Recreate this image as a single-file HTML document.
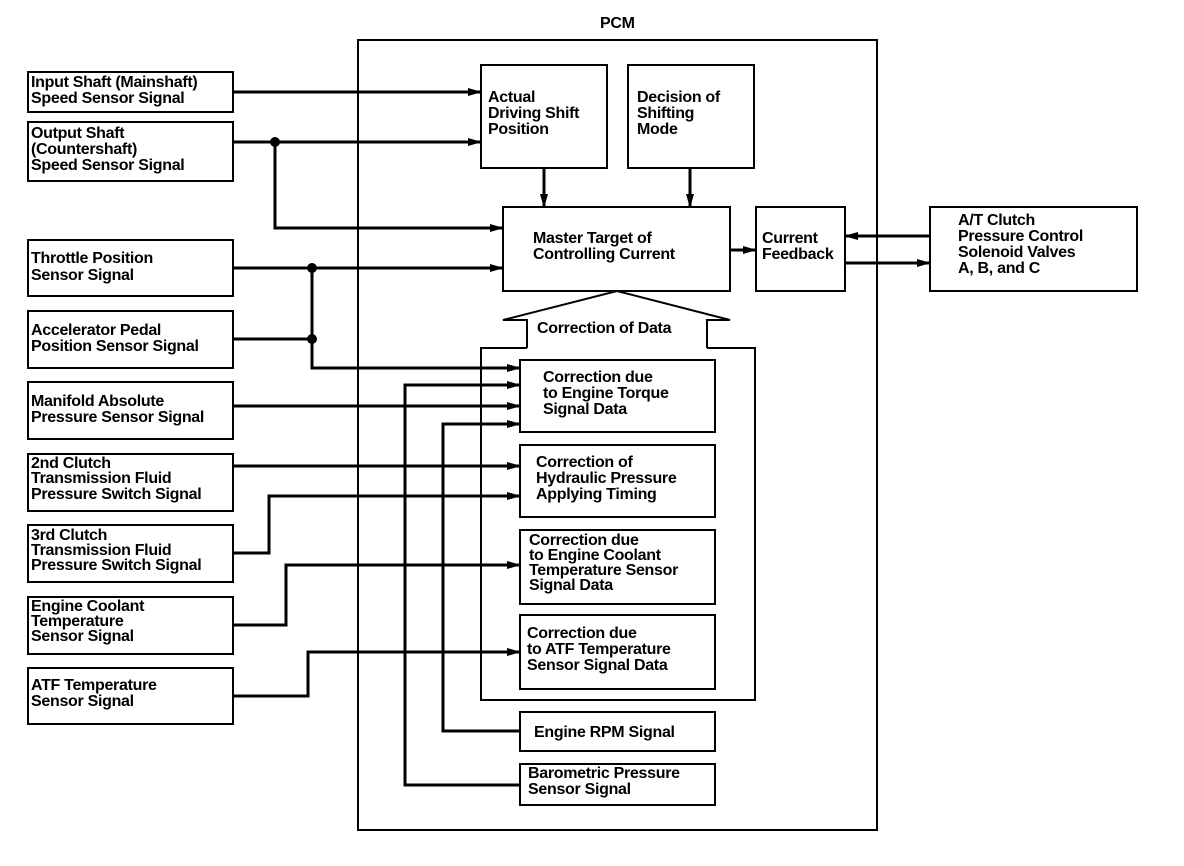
<!DOCTYPE html>
<html><head><meta charset="utf-8"><style>
html,body{margin:0;padding:0;background:#fff}
svg{display:block}
text{font-family:"Liberation Sans",Arial,sans-serif;font-weight:bold;font-size:16px;fill:#000;letter-spacing:-0.3px}
</style></head><body>
<svg width="1184" height="866" viewBox="0 0 1184 866" xmlns="http://www.w3.org/2000/svg">
<defs>
<marker id="a" markerWidth="14" markerHeight="10" refX="13" refY="5" orient="auto" markerUnits="userSpaceOnUse">
<path d="M0,1 L14,5 L0,9 Z" fill="#000"/>
</marker>
</defs>
<g fill="none" stroke="#000" stroke-width="2">
<!-- PCM -->
<rect x="358" y="40" width="519" height="790"/>
<!-- left boxes -->
<rect x="28" y="72" width="205" height="40"/>
<rect x="28" y="122" width="205" height="59"/>
<rect x="28" y="240" width="205" height="56"/>
<rect x="28" y="311" width="205" height="57"/>
<rect x="28" y="382" width="205" height="57"/>
<rect x="28" y="454" width="205" height="57"/>
<rect x="28" y="525" width="205" height="57"/>
<rect x="28" y="597" width="205" height="57"/>
<rect x="28" y="668" width="205" height="56"/>
<!-- PCM internals -->
<rect x="481" y="65" width="126" height="103"/>
<rect x="628" y="65" width="126" height="103"/>
<rect x="503" y="207" width="227" height="84"/>
<rect x="756" y="207" width="89" height="84"/>
<rect x="930" y="207" width="207" height="84"/>
<path d="M527,348 L527,320 L503,320 L617,291 L730,320 L707,320 L707,348"/>
<path d="M527,348 L481,348 L481,700 L755,700 L755,348 L707,348"/>
<rect x="520" y="360" width="195" height="72"/>
<rect x="520" y="445" width="195" height="72"/>
<rect x="520" y="530" width="195" height="74"/>
<rect x="520" y="615" width="195" height="74"/>
<rect x="520" y="712" width="195" height="39"/>
<rect x="520" y="764" width="195" height="41"/>
</g>
<g fill="none" stroke="#000" stroke-width="3" marker-end="url(#a)">
<path d="M233,92 L481,92"/>
<path d="M233,142 L481,142"/>
<path d="M275,142 L275,228 L503,228"/>
<path d="M233,268 L503,268"/>
<path d="M233,339 L312,339"  marker-end="none"/>
<path d="M312,268 L312,368 L520,368"/>
<path d="M520,785 L405,785 L405,385 L520,385"/>
<path d="M233,406 L520,406"/>
<path d="M520,731 L443,731 L443,424 L520,424"/>
<path d="M233,466 L520,466"/>
<path d="M233,553 L269,553 L269,496 L520,496"/>
<path d="M233,625 L286,625 L286,565 L520,565"/>
<path d="M233,696 L308,696 L308,652 L520,652"/>
<path d="M544,168 L544,207"/>
<path d="M690,168 L690,207"/>
<path d="M730,250 L756,250"/>
<path d="M930,236 L845,236"/>
<path d="M845,263 L930,263"/>
</g>
<g fill="#000">
<circle cx="275" cy="142" r="5"/>
<circle cx="312" cy="268" r="5"/>
<circle cx="312" cy="339" r="5"/>
</g>
<text x="600" y="28">PCM</text>
<text><tspan x="31" y="87">Input Shaft (Mainshaft)</tspan><tspan x="31" y="103">Speed Sensor Signal</tspan></text>
<text><tspan x="31" y="138">Output Shaft</tspan><tspan x="31" y="154">(Countershaft)</tspan><tspan x="31" y="170">Speed Sensor Signal</tspan></text>
<text><tspan x="31" y="263">Throttle Position</tspan><tspan x="31" y="280">Sensor Signal</tspan></text>
<text><tspan x="31" y="335">Accelerator Pedal</tspan><tspan x="31" y="351">Position Sensor Signal</tspan></text>
<text><tspan x="31" y="406">Manifold Absolute</tspan><tspan x="31" y="422">Pressure Sensor Signal</tspan></text>
<text><tspan x="31" y="468">2nd Clutch</tspan><tspan x="31" y="483">Transmission Fluid</tspan><tspan x="31" y="499">Pressure Switch Signal</tspan></text>
<text><tspan x="31" y="540">3rd Clutch</tspan><tspan x="31" y="555">Transmission Fluid</tspan><tspan x="31" y="570">Pressure Switch Signal</tspan></text>
<text><tspan x="31" y="611">Engine Coolant</tspan><tspan x="31" y="626">Temperature</tspan><tspan x="31" y="641">Sensor Signal</tspan></text>
<text><tspan x="31" y="690">ATF Temperature</tspan><tspan x="31" y="706">Sensor Signal</tspan></text>
<text><tspan x="488" y="102">Actual</tspan><tspan x="488" y="118">Driving Shift</tspan><tspan x="488" y="134">Position</tspan></text>
<text><tspan x="637" y="102">Decision of</tspan><tspan x="637" y="118">Shifting</tspan><tspan x="637" y="134">Mode</tspan></text>
<text><tspan x="533" y="243">Master Target of</tspan><tspan x="533" y="259">Controlling Current</tspan></text>
<text><tspan x="762" y="243">Current</tspan><tspan x="762" y="259">Feedback</tspan></text>
<text><tspan x="958" y="225">A/T Clutch</tspan><tspan x="958" y="241">Pressure Control</tspan><tspan x="958" y="257">Solenoid Valves</tspan><tspan x="958" y="273">A, B, and C</tspan></text>
<text x="537" y="333">Correction of Data</text>
<text><tspan x="543" y="382">Correction due</tspan><tspan x="543" y="398">to Engine Torque</tspan><tspan x="543" y="414">Signal Data</tspan></text>
<text><tspan x="536" y="467">Correction of</tspan><tspan x="536" y="483">Hydraulic Pressure</tspan><tspan x="536" y="499">Applying Timing</tspan></text>
<text><tspan x="529" y="545">Correction due</tspan><tspan x="529" y="560">to Engine Coolant</tspan><tspan x="529" y="575">Temperature Sensor</tspan><tspan x="529" y="590">Signal Data</tspan></text>
<text><tspan x="527" y="638">Correction due</tspan><tspan x="527" y="654">to ATF Temperature</tspan><tspan x="527" y="670">Sensor Signal Data</tspan></text>
<text x="534" y="737">Engine RPM Signal</text>
<text><tspan x="528" y="778">Barometric Pressure</tspan><tspan x="528" y="794">Sensor Signal</tspan></text>
</svg>
</body></html>
